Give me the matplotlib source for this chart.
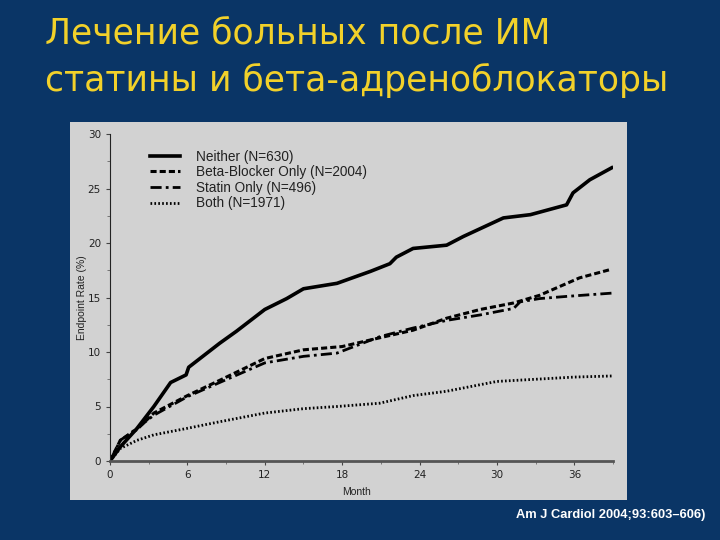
import matplotlib.pyplot as plt
from matplotlib.patches import Rectangle
from matplotlib.ticker import MultipleLocator

# values (months vs endpoint rate, %)
months_neither = [0, 0.8, 2.1, 3.4, 4.7, 5.9, 6.1, 8.5, 9.8, 12, 13.7, 15.0, 17.6,
                  20.2, 21.7, 22.2, 23.5, 26.1, 27.4, 30.5, 32.6, 35.4, 35.9, 37.2, 38.9]
neither = [0, 1.3, 3.0, 5.0, 7.2, 7.9, 8.6, 10.8, 11.9, 13.9, 14.9, 15.8, 16.3,
           17.4, 18.1, 18.7, 19.5, 19.8, 20.6, 22.3, 22.6, 23.5, 24.6, 25.8, 26.9]

months_beta = [0, 0.8, 2.1, 3.4, 6, 8.5, 12, 15, 18, 20.9, 23.5, 26.1, 28.7,
               31.3, 33.3, 36.4, 38.9]
beta = [0, 1.9, 2.9, 4.4, 6.0, 7.4, 9.4, 10.2, 10.5, 11.3, 12.0, 13.1, 13.9,
        14.5, 15.2, 16.8, 17.6]

months_statin = [0, 0.8, 2.1, 3.4, 6, 8.5, 12, 15, 17.6, 20.9, 23.5, 26.1, 28.7,
                 31.3, 31.8, 33.3, 35.4, 38.9]
statin = [0, 1.9, 3.0, 4.2, 5.9, 7.2, 9.0, 9.6, 9.9, 11.4, 12.2, 12.9, 13.4,
          14.0, 14.6, 14.9, 15.1, 15.4]

months_both = [0, 0.8, 2.1, 3.4, 6, 8.5, 12, 15, 17.6, 20.9, 23.5, 26.1, 28.7,
               30, 33, 36, 38.9]
both = [0, 1.15, 1.9, 2.4, 3.0, 3.6, 4.4, 4.8, 5.0, 5.3, 6.0, 6.4, 7.0,
        7.3, 7.5, 7.7, 7.8]

labels = ["Neither (N=630)", "Beta-Blocker Only (N=2004)",
          "Statin Only (N=496)", "Both (N=1971)"]
x_ticks = [0, 6, 12, 18, 24, 30, 36]

bg = '#0a3566'
fig = plt.figure(figsize=(7.2, 5.4), dpi=100, facecolor=bg)

# gray panel behind the scanned chart
fig.patches.append(Rectangle((70 / 720, 40 / 540), 557 / 720, 378 / 540,
                             transform=fig.transFigure, facecolor='#d2d2d2',
                             edgecolor='none', zorder=-5))

fig.text(45 / 720, 1 - 33 / 540, "Лечение больных после ИМ", color='#f2d12a',
         fontsize=24.9, family='DejaVu Sans', va='center', ha='left')
fig.text(45 / 720, 1 - 80 / 540, "статины и бета-адреноблокаторы", color='#f2d12a',
         fontsize=24.9, family='DejaVu Sans', va='center', ha='left')

ax = fig.add_axes([110 / 720, 79 / 540, 503 / 720, 327 / 540])
ax.set_facecolor('none')
ax.plot(months_neither, neither, color='black', lw=2.6, ls='-', label=labels[0])
ax.plot(months_beta, beta, color='black', lw=2.2, ls=(0, (2, 1)), label=labels[1])
ax.plot(months_statin, statin, color='black', lw=2.0, ls=(0, (4, 1.5, 1, 1.5)), label=labels[2])
ax.plot(months_both, both, color='black', lw=2.0, ls=(0, (0.6, 0.8)), label=labels[3])

ax.set_xlim(0, 39)
ax.set_ylim(0, 30)
ax.set_xticks(x_ticks)
ax.xaxis.set_minor_locator(MultipleLocator(3))
ax.yaxis.set_major_locator(MultipleLocator(5))
ax.yaxis.set_minor_locator(MultipleLocator(2.5))
for s in ['top', 'right']:
    ax.spines[s].set_visible(False)
ax.spines['left'].set_color('#222222')
ax.spines['bottom'].set_color('#555555')
ax.spines['bottom'].set_linewidth(2)
ax.tick_params(labelsize=7.5, labelcolor='#222222', colors='#444444', length=3, width=0.8)
ax.tick_params(which='minor', length=2, width=0.6, colors='#666666')
ax.set_xlabel("Month", fontsize=7.5, color='#222222', family='Liberation Sans')
ax.xaxis.set_label_coords(0.49, -0.08)
ax.set_ylabel("Endpoint Rate (%)", fontsize=7.5, color='#222222', family='Liberation Sans')
ax.yaxis.set_label_coords(-0.045, 0.5)

ax.legend(loc='upper left', bbox_to_anchor=(0.055, 0.99), frameon=False,
          prop={'family': 'Liberation Sans', 'size': 9.8}, handlelength=2.2,
          handletextpad=1.15, labelspacing=0.12, labelcolor='#222222')

fig.text(705 / 720, 1 - 515 / 540, "Am J Cardiol 2004;93:603–606)", color='white',
         fontsize=9.3, fontweight='bold', family='Liberation Sans', ha='right', va='center')

fig.savefig('out.png', dpi=100, facecolor=bg)
